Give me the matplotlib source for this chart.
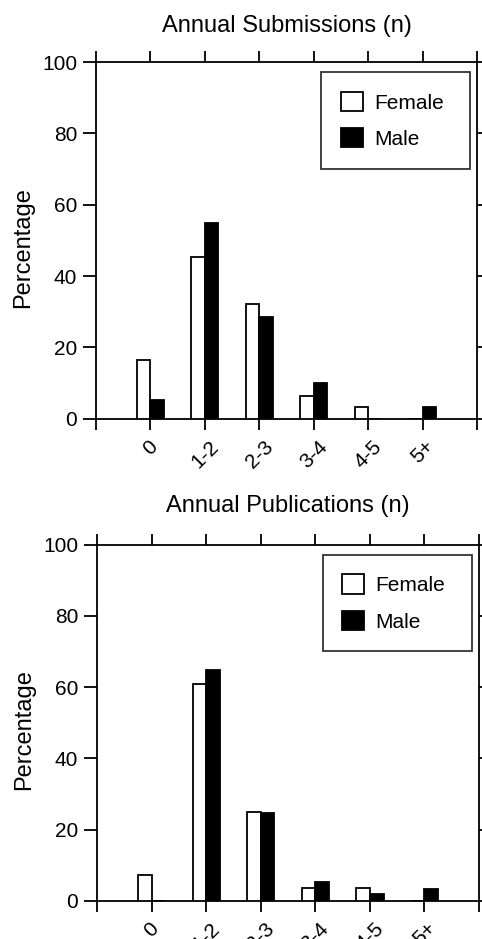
import numpy as np
import matplotlib
matplotlib.use("Agg")
import matplotlib.pyplot as plt

plt.rcParams['font.family'] = ['Liberation Sans', 'DejaVu Sans']

categories = ['0', '1-2', '2-3', '3-4', '4-5', '5+']

# Annual submissions (%)
sub_female = [16.4, 45.4, 32.2, 6.5, 3.2, 0.0]
sub_male = [5.2, 54.9, 28.4, 9.9, 0.0, 3.3]

# Annual publications (%)
pub_female = [7.1, 60.9, 25.0, 3.7, 3.7, 0.0]
pub_male = [0.0, 64.8, 24.7, 5.2, 1.9, 3.4]

W, H = 482, 939
fig = plt.figure(figsize=(W / 100, H / 100), dpi=100)


def px_axes(left, right, top, bottom):
    return fig.add_axes([left / W, 1 - bottom / H, (right - left) / W, (bottom - top) / H])


def draw_panel(ax, female, male, title, title_y):
    x = np.arange(1, len(categories) + 1)
    ax.bar(x - 0.25, female, width=0.25, align='edge', color='white',
           edgecolor='black', linewidth=1.3, label='Female', zorder=3)
    ax.bar(x, male, width=0.25, align='edge', color='black',
           edgecolor='black', linewidth=1.3, label='Male', zorder=3)
    ax.set_xlim(0, 7)
    ax.set_ylim(0, 100)
    ax.set_xticks(np.arange(0, 8))
    ax.set_xticklabels([''] + categories + [''], rotation=45, ha='center', va='top', fontsize=15)
    ax.set_yticks([0, 20, 40, 60, 80, 100])
    ax.set_yticklabels(['0', '20', '40', '60', '80', '100'], fontsize=15)
    ax.tick_params(direction='out', length=8, width=1.3, top=True, right=True,
                   labelright=False, labeltop=False, colors='black')
    ax.tick_params(axis='y', length=9.5, pad=4)
    ax.tick_params(axis='x', pad=5)
    for s in ax.spines.values():
        s.set_linewidth(1.3)
    ax.set_ylabel('Percentage', fontsize=17)
    ax.yaxis.set_label_coords(-0.163, 0.48)
    # legend box spans fixed width, content packed to the left
    leg = ax.legend(loc='upper left', bbox_to_anchor=(0.5906, 0.0, 0.391, 0.972),
                    mode='expand', borderaxespad=0,
                    fontsize=15, frameon=True, fancybox=False, edgecolor='black',
                    handlelength=1.05, handleheight=1.05, handletextpad=0.55,
                    labelspacing=0.75, borderpad=0.95)
    leg.get_frame().set_linewidth(1.3)
    fig.text((ax.get_position().x0 + ax.get_position().x1) / 2, 1 - title_y / H, title,
             ha='center', va='baseline', fontsize=17)


ax1 = px_axes(96, 477, 62, 418.7)
draw_panel(ax1, sub_female, sub_male, 'Annual Submissions (n)', 32)

ax2 = px_axes(97, 479, 544.7, 900.7)
draw_panel(ax2, pub_female, pub_male, 'Annual Publications (n)', 512)

fig.savefig('out.png', dpi=100)
